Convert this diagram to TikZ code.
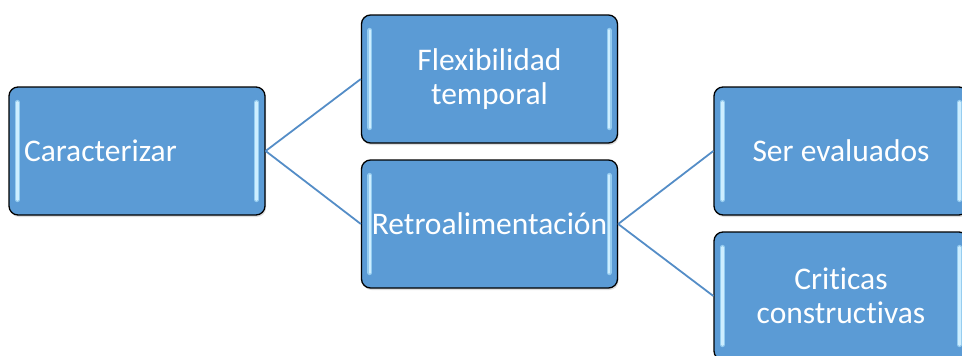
\documentclass[tikz,border=0pt]{standalone}
\usepackage{fontspec}
\setmainfont{Carlito}[Ligatures={NoCommon}]
\usetikzlibrary{shadows}
\definecolor{boxfill}{RGB}{91,155,213}
\definecolor{linkc}{RGB}{84,141,199}
\definecolor{hlc}{RGB}{205,238,255}
\definecolor{hlglow}{RGB}{150,205,240}
\begin{document}
\begin{tikzpicture}[x=1pt,y=-1pt,
  box/.style={draw=black, line width=1.3pt, fill=boxfill, rounded corners=9pt,
    minimum width=256pt, minimum height=128pt, text=white,
    font=\fontsize{31.5}{34}\selectfont, align=center, inner sep=0pt,
    drop shadow={opacity=0.25, shadow xshift=1pt, shadow yshift=-2pt}},
  link/.style={draw=linkc, line width=1.8pt},
  hlg/.style={draw=hlglow, line width=5pt, line cap=round},
  hl/.style={draw=hlc, line width=2.4pt, line cap=round}]
\useasboundingbox (0,0) rectangle (962,356);
\clip (0,0) rectangle (962,356);
\node[box, text width=226pt, align=left] (car) at (137,151) {Caracterizar};
\node[box] (flex) at (489.5,79) {Flexibilidad\\temporal};
\node[box] (retro) at (489.5,224) {Retroalimentación};
\node[box, minimum width=254pt] (ser) at (841,151) {Ser evaluados};
\node[box, minimum width=254pt] (crit) at (841,296) {Criticas\\constructivas};
\foreach \n in {car,flex,retro,ser,crit}{
  \draw[hlg] ([xshift=9pt,yshift=-16pt]\n.north west) -- ([xshift=9pt,yshift=16pt]\n.south west);
  \draw[hlg] ([xshift=-9pt,yshift=-16pt]\n.north east) -- ([xshift=-9pt,yshift=16pt]\n.south east);
  \draw[hl] ([xshift=9pt,yshift=-16pt]\n.north west) -- ([xshift=9pt,yshift=16pt]\n.south west);
  \draw[hl] ([xshift=-9pt,yshift=-16pt]\n.north east) -- ([xshift=-9pt,yshift=16pt]\n.south east);
}
\draw[link] (car.east) -- (flex.west);
\draw[link] (car.east) -- (retro.west);
\draw[link] (retro.east) -- (ser.west);
\draw[link] (retro.east) -- (crit.west);
\end{tikzpicture}
\end{document}
